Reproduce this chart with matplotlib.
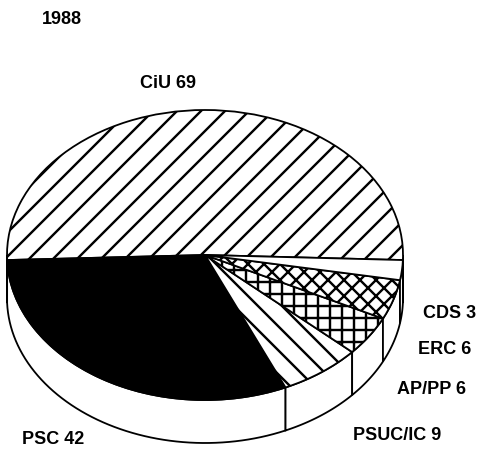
import numpy as np
import matplotlib
matplotlib.use("Agg")
import matplotlib.pyplot as plt
from matplotlib.patches import Wedge, Polygon
from matplotlib.transforms import Affine2D

# seats, 1988
parties = ["CiU", "PSC", "PSUC/IC", "AP/PP", "ERC", "CDS"]
seats = [69, 42, 9, 6, 6, 3]
hatches = ["//", "", "\\\\", "++", "xxx", ""]
fills = ["white", "black", "white", "white", "white", "white"]
year = "1988"

plt.rcParams["font.family"] = ["Liberation Sans", "DejaVu Sans"]
plt.rcParams["hatch.linewidth"] = 1.2

DPI = 144
fig = plt.figure(figsize=(486 / DPI, 460 / DPI), dpi=DPI)
ax = fig.add_axes([0, 0, 1, 1])
ax.set_xlim(0, 486)
ax.set_ylim(460, 0)
ax.axis("off")

# ellipse geometry (pixel space)
cx, cy = 205, 255
a, b = 198, 145
depth = 43
lw = 0.9

tr = Affine2D().scale(a, -b).translate(cx, cy) + ax.transData

angles = np.array(seats) / sum(seats) * 360.0
start = 90 - angles[0] / 2
t1 = start + np.concatenate([[0], np.cumsum(angles)[:-1]])
t2 = t1 + angles


def pt(t, dy=0):
    r = np.radians(t)
    return cx + a * np.cos(r), cy - b * np.sin(r) + dy


# side wall (front half only)
for i in range(len(seats)):
    for off in (0, 360, -360):
        lo = max(t1[i] + off, 180)
        hi = min(t2[i] + off, 360)
        if hi <= lo:
            continue
        ts = np.linspace(lo, hi, 60)
        top = [pt(t) for t in ts]
        bot = [pt(t, depth) for t in ts[::-1]]
        ax.add_patch(Polygon(top + bot, closed=True, facecolor="white",
                             edgecolor="black", lw=lw, zorder=1))

# top face
for i in range(len(seats)):
    w = Wedge((0, 0), 1, t1[i], t2[i], transform=tr, facecolor=fills[i],
              edgecolor="black", hatch=hatches[i], lw=lw, zorder=2)
    ax.add_patch(w)

fs = 9
kw = dict(fontsize=fs, fontweight="bold", va="center", ha="left")
ax.text(42, 20, year, **kw)
ax.text(140, 83, f"{parties[0]} {seats[0]}", **kw)
ax.text(423, 313, f"{parties[5]} {seats[5]}", **kw)
ax.text(418, 350, f"{parties[4]} {seats[4]}", **kw)
ax.text(397, 390, f"{parties[3]} {seats[3]}", **kw)
ax.text(353, 435, f"{parties[2]} {seats[2]}", **kw)
ax.text(22, 440, f"{parties[1]} {seats[1]}", **kw)

fig.savefig("out.png", dpi=DPI)
